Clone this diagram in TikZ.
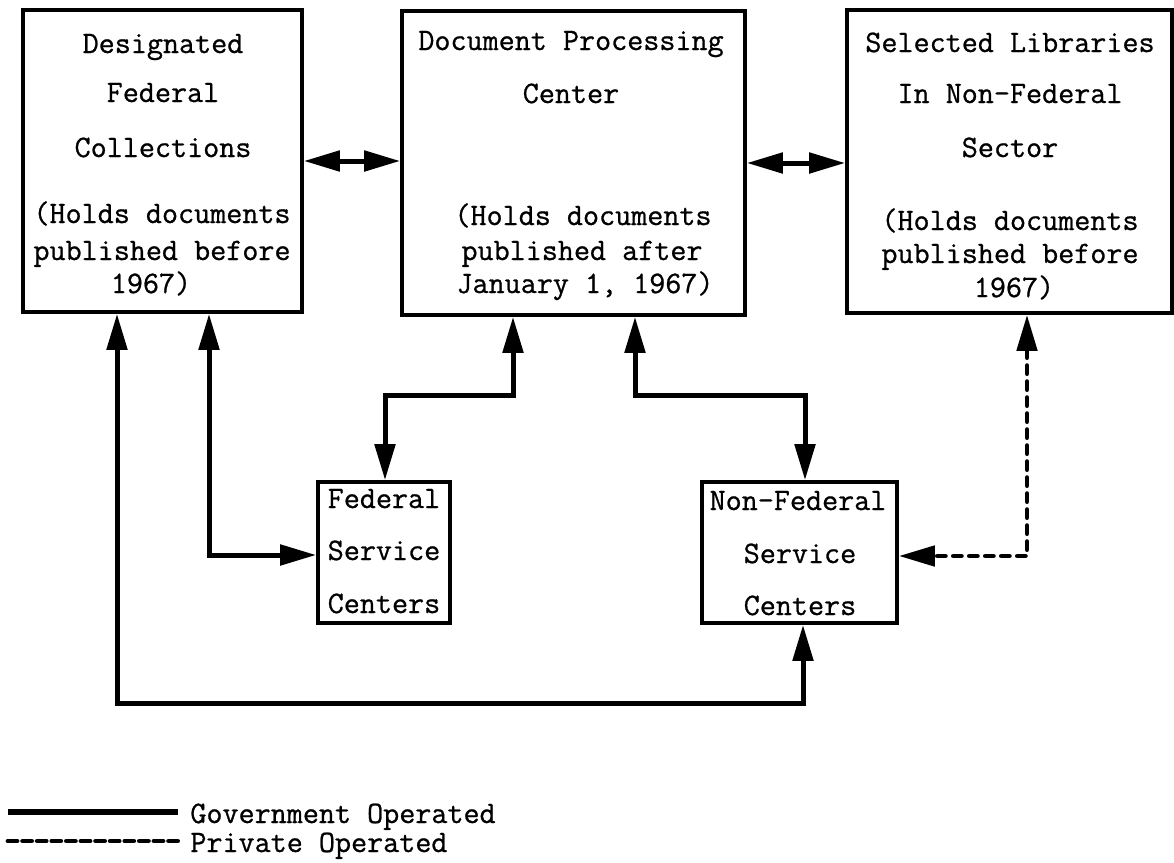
\documentclass[tikz,border=0pt]{standalone}
\usepackage{fontspec}
\setmonofont[FakeBold=0.8]{Latin Modern Mono}
\usetikzlibrary{arrows.meta}
\begin{document}
\begin{tikzpicture}[x=0.5pt,y=-0.5pt,
  >={Triangle[length=18pt,width=10pt]},
  box/.style={draw, line width=1.8pt, inner sep=0pt},
  lbl/.style={font=\ttfamily\fontsize{15.6}{18}\selectfont, anchor=base, inner sep=0pt},
  leglbl/.style={lbl, anchor=base west},
  gov/.style={line width=2.5pt, <->},
  priv/.style={line width=2.4pt, line cap=round, dash pattern=on 4pt off 4pt, <->},
  govkey/.style={line width=2.6pt},
  privkey/.style={line width=2.4pt, line cap=round, dash pattern=on 4.5pt off 2.8pt}]
\useasboundingbox (0,0) rectangle (1174,863);

% boxes
\node[box, minimum width=139.5pt, minimum height=151pt] (dfc) at (162.5,161) {};
\node[box, minimum width=171.5pt, minimum height=152pt] (dpc) at (573.5,163) {};
\node[box, minimum width=162.5pt, minimum height=151.5pt] (sel) at (1009.5,161.5) {};
\node[box, minimum width=66pt, minimum height=70.5pt] (fsc) at (384,552.5) {};
\node[box, minimum width=97.5pt, minimum height=70.5pt] (nfsc) at (799.5,552.5) {};

% box texts
\node[lbl] (dfc1) at (163,53) {Designated};
\node[lbl] (dfc2) at (163,102) {Federal};
\node[lbl] (dfc3) at (163,157) {Collections};
\node[lbl] (dfc4) at (162,223) {(Holds documents};
\node[lbl] (dfc5) at (162,260) {published before};
\node[lbl] (dfc6) at (151,293) {1967)};

\node[lbl] (dpc1) at (571,50) {Document Processing};
\node[lbl] (dpc2) at (571,103) {Center};
\node[lbl] (dpc3) at (583,225) {(Holds documents};
\node[lbl] (dpc4) at (582,260) {published after};
\node[lbl] (dpc5) at (585,293) {January 1, 1967)};

\node[lbl] (sel1) at (1010,52) {Selected Libraries};
\node[lbl] (sel2) at (1010,103) {In Non-Federal};
\node[lbl] (sel3) at (1010,157) {Sector};
\node[lbl] (sel4) at (1010,230) {(Holds documents};
\node[lbl] (sel5) at (1010,263) {published before};
\node[lbl] (sel6) at (1014,297) {1967)};

\node[lbl] (fsc1) at (384,508) {Federal};
\node[lbl] (fsc2) at (384,560) {Service};
\node[lbl] (fsc3) at (384,613) {Centers};

\node[lbl] (nfsc1) at (798,510) {Non-Federal};
\node[lbl] (nfsc2) at (800,563) {Service};
\node[lbl] (nfsc3) at (800,615) {Centers};

% bend points
\coordinate (b1) at (117,703);
\coordinate (b2) at (803,703);
\coordinate (f1) at (209,555);
\coordinate (g1) at (513,395);
\coordinate (g2) at (385,395);
\coordinate (h1) at (635,395);
\coordinate (h2) at (805,395);
\coordinate (d1) at (1027,556);

% connectors
\draw[gov] (dfc.east) -- (dfc.east -| dpc.west);
\draw[gov] (dpc.east) -- (dpc.east -| sel.west);
\draw[gov] (dfc.south -| b1) -- (b1) -- (b2) -- (nfsc.south -| b2);
\draw[gov] (dfc.south -| f1) -- (f1) -- (fsc.west |- f1);
\draw[gov] (dpc.south -| g1) -- (g1) -- (g2) -- (fsc.north -| g2);
\draw[gov] (dpc.south -| h1) -- (h1) -- (h2) -- (nfsc.north -| h2);
\draw[priv] (sel.south -| d1) -- (d1) -- (nfsc.east |- d1);

% key
\coordinate (k1) at (8,812);
\coordinate (k2) at (178,812);
\coordinate (k3) at (8,841);
\coordinate (k4) at (178,841);
\draw[govkey] (k1) -- (k2);
\draw[privkey] (k3) -- (k4);
\node[leglbl] (key1) at (190,823) {Government Operated};
\node[leglbl] (key2) at (190,852) {Private Operated};
\end{tikzpicture}
\end{document}
